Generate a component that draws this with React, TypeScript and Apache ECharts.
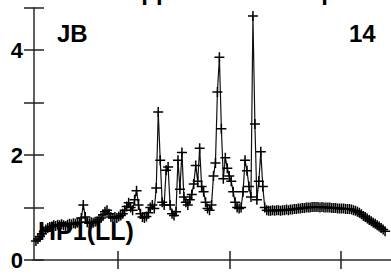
import React, { useEffect, useRef } from "react";
import * as echarts from "echarts";

// Spectrum channels (uniform channel grid)
const firstChannel = 1;
const values: number[] = [
  0.36, 0.40, 0.45, 0.50, 0.55, 0.58, 0.61, 0.63, 0.64, 0.66,
  0.65, 0.67, 0.66, 0.68, 0.66, 0.65, 0.67, 0.69, 0.68, 0.70,
  0.69, 0.71, 0.72, 0.80, 1.05, 0.82, 0.72, 0.70, 0.72, 0.71,
  0.73, 0.74, 0.76, 0.80, 0.86, 0.92, 0.95, 0.88, 0.82, 0.80,
  0.82, 0.80, 0.83, 0.85, 0.88, 0.95, 1.02, 1.09, 1.00, 0.95,
  1.15, 1.32, 1.05, 0.88, 0.82, 0.80, 0.83, 0.90, 1.00, 1.05,
  0.98, 1.37, 2.82, 1.90, 1.10, 1.05, 1.71, 1.77, 1.05, 0.88,
  0.85, 0.92, 1.90, 1.35, 2.05, 1.20, 1.10, 1.05, 1.15, 1.25,
  1.45, 1.80, 1.50, 2.13, 1.40, 1.30, 1.10, 0.98, 0.95, 1.05,
  1.60, 1.85, 3.20, 3.86, 2.50, 1.55, 1.95, 1.75, 1.60, 1.50,
  1.30, 1.10, 1.00, 0.98, 1.00, 1.30, 1.90, 1.70, 1.40, 1.20,
  4.65, 2.59, 1.15, 1.50, 2.06, 1.40, 1.00, 0.95, 0.94, 0.94,
  0.95, 0.94, 0.95, 0.95, 0.94, 0.95, 0.95, 0.96, 0.95, 0.96,
  0.96, 0.97, 0.97, 0.98, 0.98, 0.99, 0.99, 1.00, 1.00, 1.00,
  1.01, 1.01, 1.01, 1.01, 1.00, 1.01, 1.00, 1.00, 1.00, 1.00,
  0.99, 0.99, 0.99, 0.98, 0.98, 0.98, 0.98, 0.97, 0.97, 0.97,
  0.96, 0.95, 0.94, 0.92, 0.90, 0.87, 0.84, 0.82, 0.79, 0.76,
  0.74, 0.71, 0.69, 0.66, 0.64, 0.61, 0.58, 0.55,
];

const xMin = -0.5;
const xMax = 181;
const xTicks = [42.5, 99, 155.5];
const yMin = 0;
const yMax = 4.8;
const yInterval = 1;
const yLabelValues = [0, 2, 4];

const titleText = "Upper Limb Group";
const leftTag = "JB";
const rightTag = "14";
const seriesTag = "HP1(LL)";

export default function App() {
  const ref = useRef<HTMLDivElement>(null);
  useEffect(() => {
    if (!ref.current) return;
    const chart = echarts.init(ref.current, null, { renderer: "svg" });
    const data = values.map((v, i) => [firstChannel + i, v]);
    const font = "Liberation Sans, Arial, sans-serif";
    const axisLine = { show: true, lineStyle: { color: "#555", width: 1.5 } };
    const tickStyle = { color: "#222", width: 1.5 };
    chart.setOption({
      animation: false,
      backgroundColor: "#fff",
      grid: { left: 33, top: 8, right: -5, bottom: 15, containLabel: false },
      xAxis: [
        {
          type: "value",
          position: "bottom",
          min: xMin,
          max: xMax,
          axisLine,
          axisTick: { show: true, inside: true, length: 9, lineStyle: tickStyle, customValues: xTicks },
          axisLabel: { show: false },
          splitLine: { show: false },
        },
        {
          type: "value",
          position: "top",
          min: xMin,
          max: xMax,
          axisLine,
          axisTick: { show: true, inside: true, length: 9, lineStyle: tickStyle, customValues: xTicks },
          axisLabel: { show: false },
          splitLine: { show: false },
        },
      ],
      yAxis: [
        {
          type: "value",
          position: "left",
          min: yMin,
          max: yMax,
          interval: yInterval,
          axisLine,
          axisTick: { show: true, inside: true, length: 10, lineStyle: tickStyle },
          axisLabel: {
            show: true,
            margin: 10,
            fontSize: 22,
            fontWeight: "bold",
            fontFamily: font,
            color: "#000",
            formatter: (v: number) => (yLabelValues.includes(v) ? String(v) : ""),
          },
          splitLine: { show: false },
        },
        {
          type: "value",
          position: "right",
          min: yMin,
          max: yMax,
          interval: yInterval,
          axisLine,
          axisTick: { show: true, inside: true, length: 10, lineStyle: tickStyle },
          axisLabel: { show: false },
          splitLine: { show: false },
        },
      ],
      graphic: [
        {
          type: "text",
          z: 1,
          style: {
            x: 124, y: 3, text: titleText, textAlign: "left", textVerticalAlign: "bottom",
            font: `bold 24px ${font}`, fill: "#000",
          },
        },
        {
          type: "text",
          z: 1,
          style: {
            x: 57, y: 33.5, text: leftTag, textAlign: "left", textVerticalAlign: "middle",
            font: `bold 24px ${font}`, fill: "#000",
          },
        },
        {
          type: "text",
          z: 1,
          style: {
            x: 349, y: 33, text: rightTag, textAlign: "left", textVerticalAlign: "middle",
            font: `bold 24px ${font}`, fill: "#000",
          },
        },
        {
          type: "text",
          z: 1,
          style: {
            x: 38, y: 231, text: seriesTag, textAlign: "left", textVerticalAlign: "middle",
            font: `bold 25px ${font}`, fill: "#000",
          },
        },
      ],
      series: [
        {
          type: "line",
          xAxisIndex: 0,
          yAxisIndex: 0,
          data,
          z: 3,
          showAllSymbol: true,
          symbol: "path://M0,5L10,5M5,0L5,10",
          symbolSize: 10,
          itemStyle: { color: "rgba(0,0,0,0)", borderColor: "#000", borderWidth: 1.5 },
          lineStyle: { color: "#111", width: 1.2 },
          emphasis: { disabled: true },
        },
      ],
    });
    return () => chart.dispose();
  }, []);
  return (
    <div
      ref={ref}
      style={{ position: "absolute", left: 0, top: 0, width: 391, height: 275, background: "#fff" }}
    />
  );
}
